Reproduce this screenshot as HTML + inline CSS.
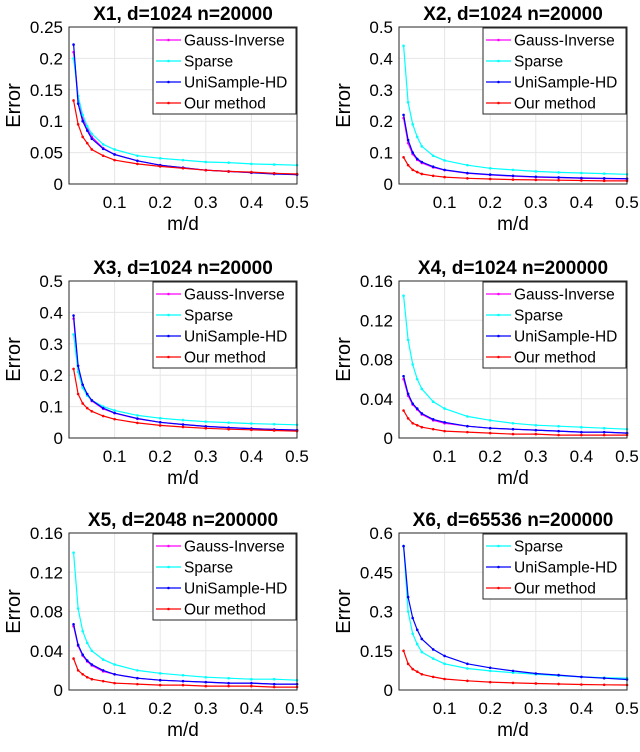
<!DOCTYPE html>
<html><head><meta charset="utf-8"><style>
body{margin:0;background:#fff;width:640px;height:747px;overflow:hidden}
svg text{font-family:"Liberation Sans",sans-serif;fill:#000}
</style></head><body>
<svg id="fig" width="640" height="747" xmlns="http://www.w3.org/2000/svg"></svg>
<script>
const xs=[0.01,0.02,0.03,0.04,0.05,0.075,0.1,0.15,0.2,0.25,0.3,0.35,0.4,0.45,0.5];
const titles=["X1, d=1024 n=20000","X2, d=1024 n=20000","X3, d=1024 n=20000","X4, d=1024 n=200000","X5, d=2048 n=200000","X6, d=65536 n=200000"];
const yMaxes=[0.25,0.5,0.5,0.16,0.16,0.6];
const yTicks=[[0,0.05,0.1,0.15,0.2,0.25],[0,0.1,0.2,0.3,0.4,0.5],[0,0.1,0.2,0.3,0.4,0.5],[0,0.04,0.08,0.12,0.16],[0,0.04,0.08,0.12,0.16],[0,0.15,0.3,0.45,0.6]];
const yTickLabels=[["0","0.05","0.1","0.15","0.2","0.25"],["0","0.1","0.2","0.3","0.4","0.5"],["0","0.1","0.2","0.3","0.4","0.5"],["0","0.04","0.08","0.12","0.16"],["0","0.04","0.08","0.12","0.16"],["0","0.15","0.3","0.45","0.6"]];
const xTicks=[0.1,0.2,0.3,0.4,0.5];
const xTickLabels=["0.1","0.2","0.3","0.4","0.5"];
const seriesNames=["Gauss-Inverse","Sparse","UniSample-HD","Our method"];
const gauss=[
[0.21,0.14,0.105,0.088,0.075,0.057,0.047,0.037,0.030,0.026,0.022,0.020,0.018,0.017,0.015],
[0.21,0.13,0.095,0.077,0.067,0.053,0.044,0.034,0.029,0.025,0.022,0.020,0.018,0.017,0.016],
[0.38,0.22,0.165,0.137,0.118,0.093,0.079,0.061,0.05,0.043,0.037,0.033,0.03,0.027,0.025],
[0.06,0.043,0.034,0.029,0.024,0.018,0.015,0.012,0.01,0.009,0.008,0.007,0.006,0.006,0.005],
[0.065,0.045,0.035,0.029,0.025,0.019,0.016,0.012,0.01,0.009,0.008,0.007,0.007,0.006,0.006],
null];
const sparse=[
[0.2,0.14,0.11,0.092,0.08,0.063,0.055,0.045,0.041,0.038,0.035,0.034,0.032,0.031,0.030],
[0.44,0.26,0.19,0.15,0.12,0.09,0.075,0.06,0.05,0.045,0.04,0.037,0.035,0.033,0.031],
[0.33,0.21,0.16,0.135,0.12,0.1,0.088,0.072,0.063,0.057,0.052,0.049,0.046,0.044,0.042],
[0.145,0.1,0.075,0.06,0.05,0.037,0.03,0.022,0.018,0.015,0.013,0.012,0.011,0.01,0.009],
[0.14,0.083,0.06,0.048,0.04,0.031,0.026,0.02,0.017,0.015,0.013,0.012,0.011,0.011,0.01],
[0.55,0.3,0.215,0.175,0.145,0.12,0.1,0.082,0.073,0.066,0.06,0.055,0.05,0.047,0.045]];
const uni=[
[0.222,0.128,0.1,0.085,0.072,0.056,0.047,0.037,0.030,0.026,0.022,0.020,0.018,0.016,0.015],
[0.22,0.14,0.1,0.08,0.07,0.055,0.045,0.035,0.03,0.026,0.023,0.021,0.019,0.018,0.017],
[0.39,0.23,0.17,0.14,0.12,0.095,0.08,0.062,0.05,0.043,0.037,0.033,0.03,0.027,0.025],
[0.063,0.045,0.035,0.03,0.025,0.019,0.016,0.012,0.01,0.009,0.008,0.007,0.006,0.006,0.005],
[0.067,0.046,0.036,0.03,0.026,0.02,0.016,0.012,0.01,0.009,0.008,0.007,0.007,0.006,0.006],
[0.55,0.355,0.275,0.23,0.195,0.155,0.13,0.1,0.085,0.073,0.063,0.057,0.05,0.045,0.04]];
const ours=[
[0.133,0.095,0.075,0.065,0.055,0.045,0.038,0.032,0.028,0.025,0.022,0.020,0.019,0.017,0.016],
[0.085,0.06,0.045,0.038,0.032,0.026,0.022,0.018,0.016,0.014,0.013,0.012,0.011,0.01,0.01],
[0.22,0.14,0.11,0.095,0.085,0.07,0.06,0.048,0.04,0.035,0.031,0.028,0.026,0.024,0.022],
[0.028,0.02,0.015,0.013,0.011,0.009,0.007,0.006,0.005,0.004,0.004,0.003,0.003,0.003,0.003],
[0.032,0.02,0.016,0.013,0.011,0.009,0.007,0.006,0.005,0.005,0.004,0.004,0.004,0.003,0.003],
[0.15,0.1,0.08,0.07,0.06,0.05,0.042,0.035,0.03,0.027,0.025,0.023,0.021,0.02,0.019]];
const colors=["#ff00ff","#00ffff","#0000ff","#ff0000"];
const NS="http://www.w3.org/2000/svg";
const fig=document.getElementById('fig');
function mk(tag,attrs,parent){const e=document.createElementNS(NS,tag);for(const k in attrs)e.setAttribute(k,attrs[k]);(parent||fig).appendChild(e);return e;}
const lefts=[69,399],tops=[27,281,533],W=228,H=157;
for(let p=0;p<6;p++){
  const L=lefts[p%2],T=tops[Math.floor(p/2)];
  const g=mk('g',{});
  
  
  const xS=v=>L+v/0.5*W, yS=v=>T+H-v/yMaxes[p]*H;
  mk('rect',{x:L,y:T,width:W,height:H,fill:'#fff'},g);
  xTicks.forEach((t,i)=>{
    const gl=mk('line',{x1:xS(t),x2:xS(t),y1:T,y2:T+H,stroke:'#e6e6e6','stroke-width':1},g);
    
    
    const tl=mk('text',{x:xS(t),y:T+H+24,'font-size':17,'text-anchor':'middle'},g);
    tl.textContent=xTickLabels[i];
    
    
  });
  yTicks[p].forEach((t,i)=>{
    const gl=mk('line',{x1:L,x2:L+W,y1:yS(t),y2:yS(t),stroke:'#e6e6e6','stroke-width':1},g);
    
    
    const tl=mk('text',{x:L-6,y:yS(t)+6,'font-size':17,'text-anchor':'end'},g);
    tl.textContent=yTickLabels[p][i];
    
    
  });
  const sets=[gauss[p],sparse[p],uni[p],ours[p]];
  const present=[];
  sets.forEach((s,si)=>{
    if(!s)return;present.push(si);
    const pts=s.map((v,i)=>xS(xs[i]).toFixed(1)+','+yS(v).toFixed(1)).join(' ');
    const pl=mk('polyline',{points:pts,fill:'none',stroke:colors[si],'stroke-width':1.2},g);
    
    
    s.forEach((v,i)=>{mk('circle',{cx:xS(xs[i]),cy:yS(v),r:1.3,fill:colors[si]},g);});
  });
  mk('rect',{x:L,y:T,width:W,height:H,fill:'none',stroke:'#262626','stroke-width':1},g);
  const tt=mk('text',{x:L+W/2,y:T-7,'font-size':19,'font-weight':'bold','text-anchor':'middle'},g);
  tt.textContent=titles[p];
  
  
  const xl=mk('text',{x:L+W/2,y:T+H+46,'font-size':19,'text-anchor':'middle'},g);
  xl.textContent='m/d';
  
  
  const yl=mk('text',{x:0,y:0,'font-size':20,'text-anchor':'middle',transform:`translate(${L-49},${T+H/2}) rotate(-90)`},g);
  yl.textContent='Error';
  
  
  const lg=mk('g',{},g);
  
  
  const LW=143,LH=present.length*21+2;
  mk('rect',{x:L+W-LW-1,y:T+1,width:LW,height:LH,fill:'#fff',stroke:'#262626','stroke-width':1},lg);
  present.forEach((si,k)=>{
    const yy=T+13+k*21;
    const lx=L+W-LW+2;
    mk('line',{x1:lx,x2:lx+25,y1:yy,y2:yy,stroke:colors[si],'stroke-width':1.2},lg);
    mk('circle',{cx:lx+12.5,cy:yy,r:1.3,fill:colors[si]},lg);
    const et=mk('text',{x:lx+28,y:yy+5.5,'font-size':15.5},lg);
    et.textContent=seriesNames[si];
    
    
  });
}
</script>
</body></html>
